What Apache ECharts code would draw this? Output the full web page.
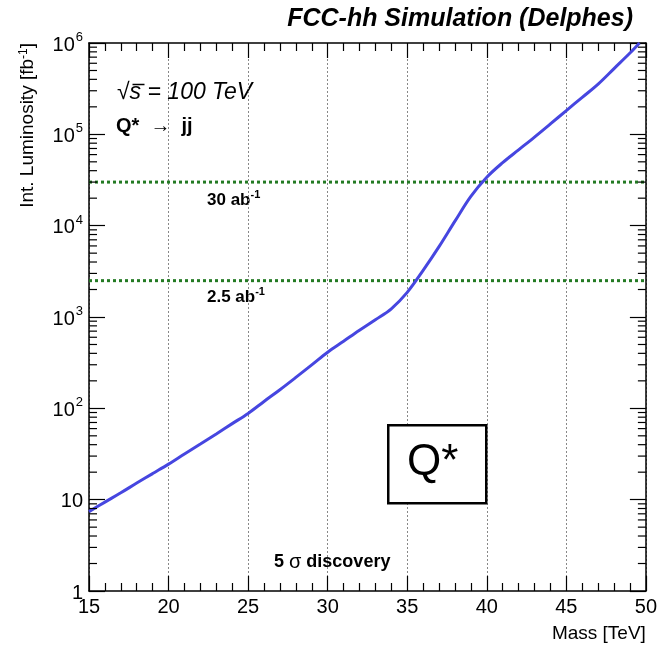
<!DOCTYPE html>
<html>
<head>
<meta charset="utf-8">
<script src="https://cdn.jsdelivr.net/npm/echarts@6/dist/echarts.min.js"></script>
<style>
  html, body { margin: 0; padding: 0; background: #fff; }
  #chart { width: 660px; height: 649px; }
</style>
</head>
<body>
<div id="chart"></div>
<script>
// Q* -> jj: integrated luminosity needed for a 5 sigma discovery vs. resonance mass
const massTeV = [15, 16, 17, 18, 19, 20, 21, 22, 23, 24, 25, 26, 27, 28, 29, 30,
                 31, 32, 33, 34, 35, 36, 37, 38, 39, 40, 41, 42, 43, 44, 45, 46,
                 47, 48, 49, 49.6];
const lumiFb = [7.4, 9.4, 11.9, 15.2, 19.3, 24.5, 31.6, 40.7, 52.5, 68, 88, 119, 160, 218, 299, 412,
                543, 716, 933, 1230, 1860, 3240, 5890, 11200, 20900, 33900, 49000, 67600, 93300, 130000, 182000, 254000,
                355000, 525000, 776000, 1000000];

// Reference integrated luminosities (fb^-1) and their labels
const targetLumi = [30000, 2500];
const targetLabels = ['30', '2.5'];

// Axis ranges and minor tick values on the log axis
const xRange = [15, 50];
const yRange = [1, 1e6];
const yMinorTicks = [];
for (let e = 0; e < 6; e++) {
  for (let m = 2; m <= 9; m++) yMinorTicks.push(m * Math.pow(10, e));
}

const FONT = '"Liberation Sans", Arial, Helvetica, sans-serif';
const chart = echarts.init(document.getElementById('chart'), null, { renderer: 'canvas' });

const gridBox = { left: 89, right: 13, top: 43, bottom: 58 };

function yLabel(v) {
  const e = Math.round(Math.log10(v));
  if (e === 0) return '{b|1}';
  if (e === 1) return '{b|10}';
  return '{b|10}{s|' + e + '}';
}

const axisLineStyle = { color: '#000', width: 1.5 };
const tickStyle = { color: '#000', width: 1.2 };

const option = {
  animation: false,
  backgroundColor: '#fff',
  grid: Object.assign({ containLabel: false }, gridBox),
  xAxis: [
    {
      type: 'value', min: xRange[0], max: xRange[1], interval: 5,
      position: 'bottom',
      axisLine: { show: true, onZero: false, lineStyle: axisLineStyle },
      axisTick: { show: true, inside: true, length: 15, lineStyle: tickStyle },
      minorTick: { show: true, splitNumber: 5, length: 8, lineStyle: tickStyle },
      axisLabel: { show: true, margin: 6, color: '#000', fontSize: 20, fontFamily: FONT },
      splitLine: { show: true, lineStyle: { type: [2, 2], color: '#888', width: 1 } },
      name: 'Mass [TeV]', nameLocation: 'end', nameGap: 0,
      nameTextStyle: { color: '#000', fontSize: 19, fontFamily: FONT, align: 'right', verticalAlign: 'top', padding: [33, 0, 0, 0] }
    },
    {
      type: 'value', min: xRange[0], max: xRange[1], interval: 5,
      position: 'top',
      axisLine: { show: true, onZero: false, lineStyle: axisLineStyle },
      axisTick: { show: true, inside: true, length: 15, lineStyle: tickStyle },
      minorTick: { show: true, splitNumber: 5, length: 8, lineStyle: tickStyle },
      axisLabel: { show: false },
      splitLine: { show: false }
    }
  ],
  yAxis: [
    {
      type: 'log', logBase: 10, min: yRange[0], max: yRange[1],
      position: 'left',
      axisLine: { show: true, onZero: false, lineStyle: axisLineStyle },
      axisTick: { show: true, inside: true, length: 16, lineStyle: tickStyle },
      axisLabel: {
        show: true, margin: 6, color: '#000', fontFamily: FONT,
        formatter: yLabel,
        rich: {
          b: { fontSize: 20, fontFamily: FONT, color: '#000', lineHeight: 24, verticalAlign: 'bottom' },
          s: { fontSize: 13, fontFamily: FONT, color: '#000', lineHeight: 24, verticalAlign: 'top', padding: [0, 0, 10, 1] }
        }
      },
      splitLine: { show: false },
      name: 'Int. Luminosity [fb{s|-1}]', nameLocation: 'end', nameRotate: 90, nameGap: 0,
      nameTextStyle: {
        color: '#000', fontSize: 19, fontFamily: FONT, align: 'right', verticalAlign: 'bottom',
        padding: [0, 0, 51, 0],
        rich: { s: { fontSize: 12, fontFamily: FONT, color: '#000', verticalAlign: 'top', padding: [0, 0, 8, 0] } }
      }
    },
    {
      type: 'log', logBase: 10, min: yRange[0], max: yRange[1],
      position: 'right',
      axisLine: { show: true, onZero: false, lineStyle: axisLineStyle },
      axisTick: { show: true, inside: true, length: 16, lineStyle: tickStyle },
      axisLabel: { show: false },
      splitLine: { show: false }
    }
  ],
  series: [
    // minor ticks (2..9 x 10^k) on both vertical frame edges
    {
      type: 'custom',
      xAxisIndex: 0, yAxisIndex: 0,
      silent: true, clip: false, z: 5,
      data: yMinorTicks.map(v => [xRange[0], v]),
      encode: { x: 0, y: 1 },
      renderItem: function (params, api) {
        const v = api.value(1);
        const l = api.coord([xRange[0], v]);
        const r = api.coord([xRange[1], v]);
        const style = { stroke: '#000', lineWidth: 1.2 };
        return {
          type: 'group',
          children: [
            { type: 'line', shape: { x1: l[0], y1: l[1], x2: l[0] + 8, y2: l[1] }, style: style },
            { type: 'line', shape: { x1: r[0], y1: r[1], x2: r[0] - 8, y2: r[1] }, style: style }
          ]
        };
      }
    },
    // reference luminosity lines
    ...targetLumi.map(v => ({
      type: 'line', xAxisIndex: 0, yAxisIndex: 0, silent: true, z: 3,
      symbol: 'none',
      data: [[xRange[0], v], [xRange[1], v]],
      lineStyle: { color: '#237a23', width: 3, type: [3, 3] }
    })),
    // discovery reach curve
    {
      type: 'line', xAxisIndex: 0, yAxisIndex: 0, z: 4,
      symbol: 'none', smooth: 0.35,
      data: massTeV.map((m, i) => [m, lumiFb[i]]),
      lineStyle: { color: '#4646e0', width: 3 }
    }
  ],
  graphic: [
    {
      type: 'text', right: 27, top: 7,
      style: { text: 'FCC-hh Simulation (Delphes)', fill: '#000', font: 'italic bold 25px ' + FONT }
    },
    {
      type: 'text', left: 117, top: 81,
      style: {
        text: '{r|√}{i|s = 100 TeV}',
        rich: {
          r: { fontSize: 23, fontFamily: FONT, fill: '#000' },
          i: { fontSize: 23, fontFamily: FONT, fontStyle: 'italic', fill: '#000' }
        }
      }
    },
    {
      // overbar of the square root sign
      type: 'line', left: 130, top: 82,
      shape: { x1: 0, y1: 0, x2: 12, y2: 0 },
      style: { stroke: '#000', lineWidth: 1.5 }
    },
    {
      type: 'text', left: 116, top: 116,
      style: {
        text: '{b|Q*}{a|  \u2192  }{b|jj}',
        rich: {
          b: { fontSize: 20, fontWeight: 'bold', fontFamily: FONT, fill: '#000' },
          a: { fontSize: 20, fontFamily: FONT, fill: '#000' }
        }
      }
    },
    ...targetLabels.map((t, i) => ({
      type: 'text', left: 207, top: i === 0 ? 189 : 286,
      style: {
        text: '{b|' + t + ' ab}{s|-1}',
        rich: {
          b: { fontSize: 17, fontWeight: 'bold', fontFamily: FONT, fill: '#000', lineHeight: 20, verticalAlign: 'bottom' },
          s: { fontSize: 11, fontWeight: 'bold', fontFamily: FONT, fill: '#000', lineHeight: 20, verticalAlign: 'top', padding: [0, 0, 8, 0] }
        }
      }
    })),
    {
      type: 'text', left: 274, top: 552,
      style: {
        text: '{b|5 }{g|σ}{b| discovery}',
        rich: {
          b: { fontSize: 18, fontWeight: 'bold', fontFamily: FONT, fill: '#000' },
          g: { fontSize: 20, fontFamily: FONT, fill: '#000' }
        }
      }
    },
    {
      type: 'rect', left: 387, top: 424,
      shape: { width: 98, height: 78 },
      style: { fill: '#fff', stroke: '#000', lineWidth: 2.5 }, z: 10
    },
    {
      type: 'text', left: 407, top: 441, z: 11,
      style: { text: 'Q*', fill: '#000', font: '44px ' + FONT }
    }
  ]
};

chart.setOption(option);
</script>
</body>
</html>
